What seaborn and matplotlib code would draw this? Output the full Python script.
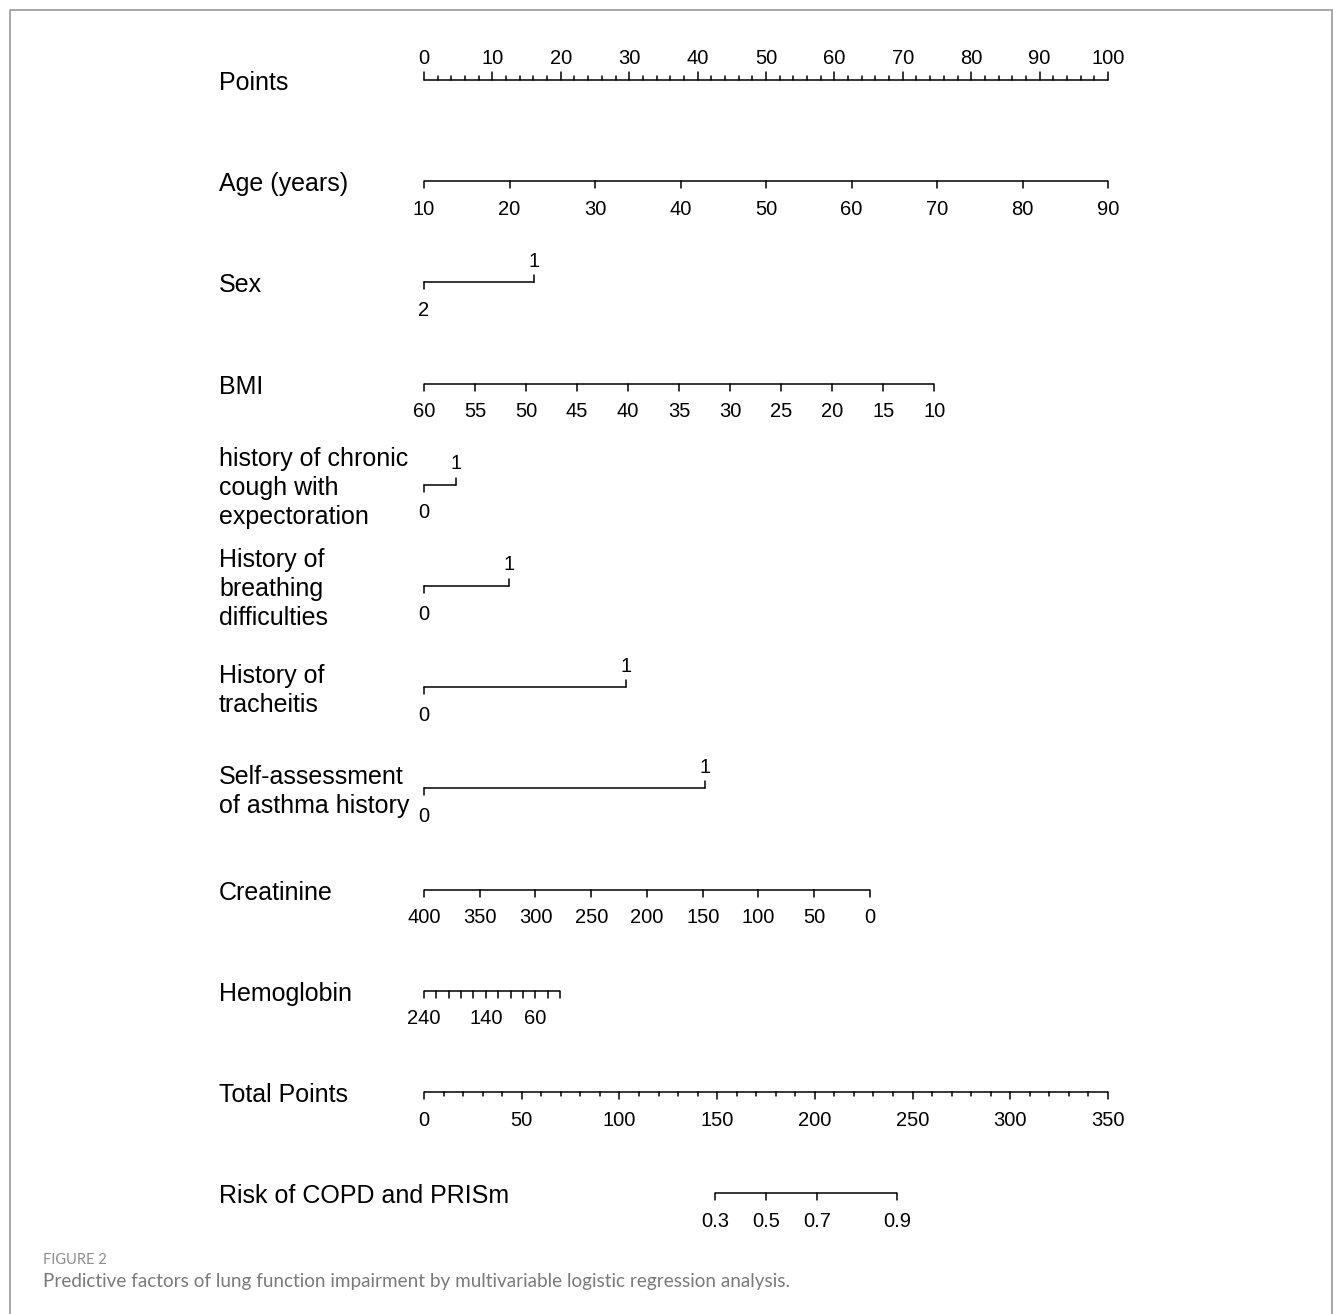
import numpy as np
import matplotlib
matplotlib.use("Agg")
import matplotlib.pyplot as plt
import seaborn as sns

# --- nomogram data ---
points_major = [0, 10, 20, 30, 40, 50, 60, 70, 80, 90, 100]

age_ticks = [10, 20, 30, 40, 50, 60, 70, 80, 90]
age_range = (10, 90)
age_pts = (0, 100)

sex_levels = ["2", "1"]
sex_pts = [0, 16.1]

bmi_ticks = [60, 55, 50, 45, 40, 35, 30, 25, 20, 15, 10]
bmi_range = (60, 10)
bmi_pts = (0, 74.6)

cough_levels = ["0", "1"]
cough_pts = [0, 4.7]

breath_levels = ["0", "1"]
breath_pts = [0, 12.4]

trach_levels = ["0", "1"]
trach_pts = [0, 29.5]

asthma_levels = ["0", "1"]
asthma_pts = [0, 41.1]

creat_ticks = [400, 350, 300, 250, 200, 150, 100, 50, 0]
creat_range = (400, 0)
creat_pts = (0, 65.2)

hb_ticks = [240, 220, 200, 180, 160, 140, 120, 100, 80, 60, 40, 20]
hb_labels = [240, 140, 60]
hb_range = (240, 20)
hb_pts = (0, 19.9)

total_major = [0, 50, 100, 150, 200, 250, 300, 350]
total_max = 350

risk_labels = ["0.3", "0.5", "0.7", "0.9"]
risk_total = [149, 175, 201, 242]

row_names = ["Points", "Age (years)", "Sex", "BMI",
             "history of chronic\ncough with\nexpectoration",
             "History of\nbreathing\ndifficulties",
             "History of\ntracheitis",
             "Self-assessment\nof asthma history",
             "Creatinine", "Hemoglobin", "Total Points", "Risk of COPD and PRISm"]

sns.set_theme(style="white")
plt.rcParams["font.family"] = ["Liberation Sans", "DejaVu Sans"]
plt.rcParams["text.color"] = "black"

W, H = 1333, 1314
fig = plt.figure(figsize=(W / 100, H / 100), dpi=100)
ax = fig.add_axes([0, 0, 1, 1])
ax.set_xlim(0, W)
ax.set_ylim(H, 0)
ax.axis("off")

X0, SCALE = 424, 6.84          # pixel of 0 points, pixels per point
LW = 1.1
TICK = 7
LAB_FS = 18
TICK_FS = 14.5
BELOW, ABOVE = 28, -21
rows = [80 + 101.2 * i for i in range(len(row_names))]


def px(p):
    return X0 + SCALE * np.asarray(p, dtype=float)


def to_pts(v, vr, pr):
    return pr[0] + (np.asarray(v, dtype=float) - vr[0]) / (vr[1] - vr[0]) * (pr[1] - pr[0])


def scale_axis(y, tick_pts, labels, label_pts=None, minor_pts=None):
    xs = px(tick_pts)
    ax.plot([xs.min(), xs.max()], [y, y], color="black", lw=LW, solid_capstyle="butt")
    for x in xs:
        ax.plot([x, x], [y, y + TICK], color="black", lw=LW)
    if minor_pts is not None:
        for x in px(minor_pts):
            ax.plot([x, x], [y, y + 4], color="black", lw=LW)
    if label_pts is None:
        label_pts = tick_pts
    for x, lab in zip(px(label_pts), labels):
        ax.text(x, y + BELOW, str(lab), ha="center", va="center", fontsize=TICK_FS)


def binary_axis(y, levels, pts):
    xs = px(pts)
    ax.plot([xs[0], xs[1]], [y, y], color="black", lw=LW)
    ax.plot([xs[0], xs[0]], [y, y + TICK], color="black", lw=LW)
    ax.plot([xs[1], xs[1]], [y, y - TICK], color="black", lw=LW)
    ax.text(xs[0], y + BELOW, levels[0], ha="center", va="center", fontsize=TICK_FS)
    ax.text(xs[1], y + ABOVE, levels[1], ha="center", va="center", fontsize=TICK_FS)


# row labels
for name, y in zip(row_names, rows):
    ax.text(219, y + 3, name, ha="left", va="center", fontsize=LAB_FS, linespacing=1.27)

# Points axis (ticks up, labels above)
y = rows[0]
ax.plot([px(0), px(100)], [y, y], color="black", lw=LW)
for p in np.arange(0, 101, 2):
    L = 8 if p % 10 == 0 else 4
    ax.plot([px(p), px(p)], [y, y - L], color="black", lw=LW)
for p in points_major:
    ax.text(px(p), y + ABOVE, str(p), ha="center", va="center", fontsize=TICK_FS)

scale_axis(rows[1], to_pts(age_ticks, age_range, age_pts), age_ticks)
binary_axis(rows[2], sex_levels, sex_pts)
scale_axis(rows[3], to_pts(bmi_ticks, bmi_range, bmi_pts), bmi_ticks)
binary_axis(rows[4], cough_levels, cough_pts)
binary_axis(rows[5], breath_levels, breath_pts)
binary_axis(rows[6], trach_levels, trach_pts)
binary_axis(rows[7], asthma_levels, asthma_pts)
scale_axis(rows[8], to_pts(creat_ticks, creat_range, creat_pts), creat_ticks)
scale_axis(rows[9], to_pts(hb_ticks, hb_range, hb_pts), hb_labels,
           label_pts=to_pts(hb_labels, hb_range, hb_pts))

# Total points
tp = lambda t: np.asarray(t, dtype=float) * 100 / total_max
scale_axis(rows[10], tp(total_major), total_major,
           minor_pts=tp([t for t in range(0, total_max + 1, 10) if t % 50]))

# Risk
scale_axis(rows[11], tp(risk_total), risk_labels)

# frame and caption
ax.plot([10, 10, 1332, 1332], [H, 10, 10, H], color="#a0a0a0", lw=1.3)
ax.text(43, 1260, "FIGURE 2", ha="left", va="center", fontsize=10.5,
        color="#8c8c8c", family=["Lato", "DejaVu Sans"])
ax.text(43, 1282, "Predictive factors of lung function impairment by multivariable logistic regression analysis.",
        ha="left", va="center", fontsize=13.6, color="#7a7a7a", family=["Lato", "DejaVu Sans"])

fig.savefig("out.png", dpi=100, facecolor="white")
